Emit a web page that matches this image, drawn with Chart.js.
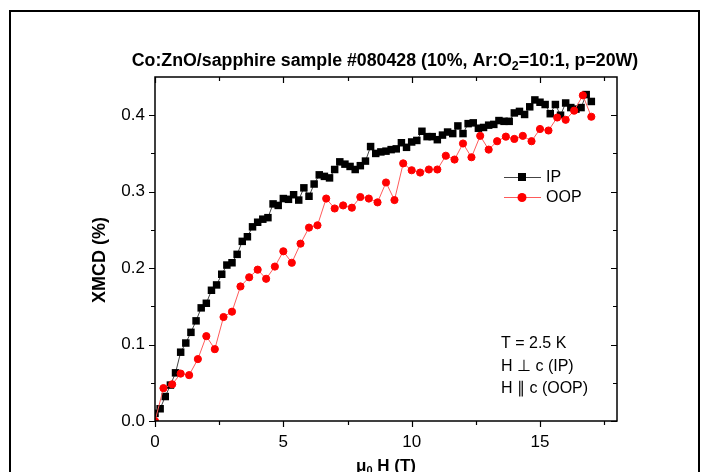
<!DOCTYPE html>
<html>
<head>
<meta charset="utf-8">
<script src="https://cdn.jsdelivr.net/npm/chart.js@4/dist/chart.umd.min.js"></script>
<style>
  body { margin: 0; background: #fff; }
  #wrap { width: 701px; height: 472px; }
</style>
</head>
<body>
<div id="wrap"><canvas id="xmcdChart" width="701" height="472"></canvas></div>
<script>
// field values (T) and XMCD (%)
const ipField = [0, 0.2, 0.4, 0.6, 0.8, 1.0, 1.2, 1.4, 1.6, 1.8, 2.0, 2.2, 2.4, 2.6, 2.8, 3.0, 3.2, 3.4, 3.6, 3.8,
  4.0, 4.2, 4.4, 4.6, 4.8, 5.0, 5.2, 5.4, 5.6, 5.8, 6.0, 6.2, 6.4, 6.6, 6.8, 7.0, 7.2, 7.4, 7.6, 7.8,
  8.0, 8.2, 8.4, 8.6, 8.8, 9.0, 9.2, 9.4, 9.6, 9.8, 10.0, 10.2, 10.4, 10.6, 10.8, 11.0, 11.2, 11.4, 11.6, 11.8,
  12.0, 12.2, 12.4, 12.6, 12.8, 13.0, 13.2, 13.4, 13.6, 13.8, 14.0, 14.2, 14.4, 14.6, 14.8, 15.0, 15.2, 15.4, 15.6, 15.8,
  16.0, 16.2, 16.4, 16.6, 16.8, 17.0]
const ipXmcd = [0.010, 0.016, 0.032, 0.047, 0.063, 0.090, 0.102, 0.116, 0.131, 0.148, 0.154, 0.171, 0.178, 0.192, 0.204, 0.207, 0.218, 0.235, 0.241, 0.254,
  0.260, 0.264, 0.266, 0.284, 0.282, 0.291, 0.290, 0.296, 0.289, 0.305, 0.294, 0.310, 0.322, 0.320, 0.318, 0.329, 0.339, 0.336, 0.333, 0.329,
  0.334, 0.340, 0.359, 0.350, 0.352, 0.353, 0.355, 0.356, 0.364, 0.358, 0.365, 0.367, 0.379, 0.372, 0.372, 0.368, 0.374, 0.378, 0.376, 0.386,
  0.376, 0.389, 0.390, 0.383, 0.384, 0.387, 0.388, 0.393, 0.392, 0.392, 0.403, 0.405, 0.401, 0.411, 0.420, 0.417, 0.414, 0.402, 0.414, 0.400,
  0.416, 0.410, 0.408, 0.410, 0.427, 0.418]

const oopField = [0, 0.33, 0.67, 1.0, 1.33, 1.67, 2.0, 2.33, 2.67, 3.0, 3.33, 3.67, 4.0, 4.33, 4.67, 5.0, 5.33, 5.67,
  6.0, 6.33, 6.67, 7.0, 7.33, 7.67, 8.0, 8.33, 8.67, 9.0, 9.33, 9.67, 10.0, 10.33, 10.67, 11.0, 11.33, 11.67,
  12.0, 12.33, 12.67, 13.0, 13.33, 13.67, 14.0, 14.33, 14.67, 15.0, 15.33, 15.67, 16.0, 16.33, 16.67, 17.0]
const oopXmcd = [0.000, 0.043, 0.048, 0.062, 0.060, 0.081, 0.111, 0.094, 0.136, 0.143, 0.176, 0.188, 0.198, 0.186, 0.202, 0.222, 0.207, 0.232,
  0.253, 0.256, 0.291, 0.278, 0.282, 0.279, 0.293, 0.291, 0.286, 0.312, 0.289, 0.337, 0.328, 0.325, 0.329, 0.329, 0.347, 0.342,
  0.363, 0.345, 0.373, 0.355, 0.366, 0.372, 0.369, 0.373, 0.366, 0.382, 0.380, 0.397, 0.394, 0.406, 0.426, 0.398]

const xMajorTicks = [0, 5, 10, 15]
const xMinorTicks = [2.5, 7.5, 12.5, 17.5]
const yMajorTicks = [0, 0.1, 0.2, 0.3, 0.4]
const yMinorTicks = [0.05, 0.15, 0.25, 0.35]
const yTickLabels = ['0.0', '0.1', '0.2', '0.3', '0.4']

const legendNames = ['IP', 'OOP']
const noteLines = ['T = 2.5 K', 'H \u22A5 c (IP)', 'H \u2225 c (OOP)']

function toPoints(xs, ys) {
  return xs.map((x, i) => ({ x: x, y: ys[i] }))
}

const FONT = '"Liberation Sans", Arial, sans-serif'

// draws axes box, ticks, labels, title, legend and note
const decorPlugin = {
  id: 'decor',
  afterDraw(chart) {
    const ctx = chart.ctx
    const area = chart.chartArea
    const xs = chart.scales.x
    const ys = chart.scales.y
    ctx.save()
    ctx.fillStyle = '#000'
    ctx.strokeStyle = '#000'

    // outer frame
    ctx.lineWidth = 2
    ctx.strokeRect(10, 11, 689, 480)

    // axes box
    ctx.lineWidth = 1.5
    ctx.strokeRect(area.left, area.top, area.right - area.left, area.bottom - area.top)

    ctx.lineWidth = 1.2
    ctx.beginPath()
    for (const v of xMajorTicks.concat(xMinorTicks)) {
      const len = xMajorTicks.includes(v) ? 6 : 4
      const px = Math.round(xs.getPixelForValue(v)) + 0.5
      ctx.moveTo(px, area.bottom); ctx.lineTo(px, area.bottom + len)
      ctx.moveTo(px, area.top); ctx.lineTo(px, area.top + len)
    }
    for (const v of yMajorTicks.concat(yMinorTicks)) {
      const len = yMajorTicks.includes(v) ? 6 : 4
      const py = Math.round(ys.getPixelForValue(v)) + 0.5
      ctx.moveTo(area.left, py); ctx.lineTo(area.left - len, py)
      ctx.moveTo(area.right, py); ctx.lineTo(area.right - len, py)
    }
    ctx.stroke()

    // tick labels
    ctx.font = '17px ' + FONT
    ctx.textAlign = 'center'
    ctx.textBaseline = 'alphabetic'
    xMajorTicks.forEach(v => {
      ctx.fillText(String(v), xs.getPixelForValue(v), 447)
    })
    ctx.textAlign = 'right'
    ctx.textBaseline = 'middle'
    yMajorTicks.forEach((v, i) => {
      ctx.fillText(yTickLabels[i], area.left - 10, ys.getPixelForValue(v))
    })

    // title with subscript
    ctx.textBaseline = 'alphabetic'
    ctx.textAlign = 'left'
    const t1 = 'Co:ZnO/sapphire sample #080428 (10%, Ar:O'
    const t2 = '=10:1, p=20W)'
    let fs = 16
    ctx.font = 'bold ' + fs + 'px ' + FONT
    let w = ctx.measureText(t1 + t2).width + fs * 0.45
    fs = fs * 508 / w
    ctx.font = 'bold ' + fs + 'px ' + FONT
    const w1 = ctx.measureText(t1).width
    const w2 = ctx.measureText(t2).width
    ctx.font = 'bold ' + (fs * 0.7) + 'px ' + FONT
    const ws = ctx.measureText('2').width
    let tx = 385 - (w1 + ws + w2) / 2
    ctx.font = 'bold ' + fs + 'px ' + FONT
    ctx.fillText(t1, tx, 66)
    ctx.font = 'bold ' + (fs * 0.7) + 'px ' + FONT
    ctx.fillText('2', tx + w1, 70)
    ctx.font = 'bold ' + fs + 'px ' + FONT
    ctx.fillText(t2, tx + w1 + ws, 66)

    // x axis title: mu_0 H (T)
    ctx.font = 'bold 17px ' + FONT
    const a = '\u03BC'
    const b = ' H (T)'
    const wa = ctx.measureText(a).width
    const wb = ctx.measureText(b).width
    ctx.font = 'bold 11px ' + FONT
    const w0 = ctx.measureText('0').width
    let lx = 386 - (wa + w0 + wb) / 2
    ctx.font = 'bold 17px ' + FONT
    ctx.fillText(a, lx, 471)
    ctx.font = 'bold 11px ' + FONT
    ctx.fillText('0', lx + wa, 474)
    ctx.font = 'bold 17px ' + FONT
    ctx.fillText(b, lx + wa + w0, 471)

    // y axis title
    ctx.save()
    ctx.translate(105, 260)
    ctx.rotate(-Math.PI / 2)
    ctx.textAlign = 'center'
    ctx.font = 'bold 18px ' + FONT
    ctx.fillText('XMCD (%)', 0, 0)
    ctx.restore()

    // legend
    const legY = [177, 197]
    chart.data.datasets.forEach((ds, i) => {
      const y = legY[legendNames.indexOf(ds.label)]
      ctx.strokeStyle = ds.borderColor
      ctx.lineWidth = 1
      ctx.beginPath()
      ctx.moveTo(504, y + 0.5); ctx.lineTo(541, y + 0.5)
      ctx.stroke()
      ctx.fillStyle = ds.pointBackgroundColor
      if (ds.pointStyle === 'rect') {
        ctx.fillRect(518, y - 4, 8, 8)
      } else {
        ctx.beginPath()
        ctx.arc(522, y + 0.5, 4.5, 0, Math.PI * 2)
        ctx.fill()
      }
      ctx.fillStyle = '#000'
      ctx.font = '16px ' + FONT
      ctx.textAlign = 'left'
      ctx.textBaseline = 'middle'
      ctx.fillText(ds.label, 546, y + 1)
    })

    // note text
    ctx.font = '16px ' + FONT
    ctx.textBaseline = 'alphabetic'
    ctx.textAlign = 'left'
    noteLines.forEach((s, i) => {
      ctx.fillText(s, 501, 348 + i * 22.5)
    })

    ctx.restore()
  }
}

function createXmcdChart() {
  const ctx = document.getElementById('xmcdChart')

  new Chart(ctx, {
    type: 'scatter',
    data: {
      datasets: [{
        label: 'OOP',
        data: toPoints(oopField, oopXmcd),
        showLine: true,
        borderColor: '#ff5a5a',
        borderWidth: 1,
        pointStyle: 'circle',
        pointRadius: 3.6,
        pointBackgroundColor: '#ff0000',
        pointBorderColor: '#ff0000',
        pointBorderWidth: 1,
        order: 0
      }, {
        label: 'IP',
        data: toPoints(ipField, ipXmcd),
        showLine: true,
        borderColor: '#444444',
        borderWidth: 1,
        pointStyle: 'rect',
        pointRadius: 5.3,
        pointBackgroundColor: '#000000',
        pointBorderColor: '#000000',
        pointBorderWidth: 0,
        order: 1
      }]
    },
    options: {
      responsive: false,
      animation: false,
      layout: {
        padding: { left: 155, top: 77, right: 84, bottom: 51 }
      },
      plugins: {
        legend: { display: false },
        title: { display: false },
        tooltip: { enabled: false }
      },
      scales: {
        x: { type: 'linear', min: 0, max: 18, display: false },
        y: { type: 'linear', min: 0, max: 0.45, display: false }
      }
    },
    plugins: [decorPlugin]
  })
}

document.addEventListener('DOMContentLoaded', () => createXmcdChart())
</script>
</body>
</html>
